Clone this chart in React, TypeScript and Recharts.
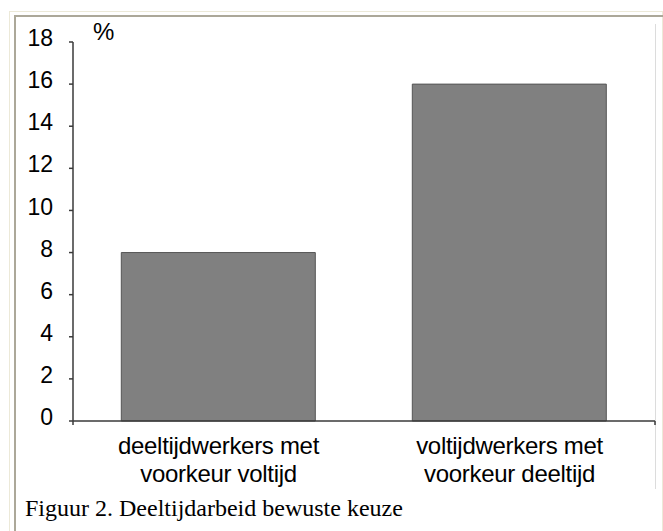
import { BarChart, Bar, XAxis, YAxis } from 'recharts'

// categories (two-line labels) and share in %
const categories = ['deeltijdwerkers met\nvoorkeur voltijd', 'voltijdwerkers met\nvoorkeur deeltijd']
const percentages = [8, 16]
const yTicks = [0, 2, 4, 6, 8, 10, 12, 14, 16, 18]
const edgeTicks = [0, 1, 2]

const data = categories.map((name, i) => ({ name, value: percentages[i] }))

const SANS = '"Liberation Sans", Arial, sans-serif'
const AXIS = '#3a3a3a'

function CategoryTick({ x, y, payload }: any) {
  const lines = String(payload.value).split('\n')
  return (
    <text x={x} y={y} textAnchor="middle" fill="#000" fontSize={24} fontFamily={SANS} letterSpacing={-0.3}>
      {lines.map((line, i) => (
        <tspan key={i} x={x} dy={i === 0 ? 17 : 28}>
          {line}
        </tspan>
      ))}
    </text>
  )
}

function PercentLabel({ viewBox }: any) {
  return (
    <text x={viewBox.x + viewBox.width + 20} y={viewBox.y - 2} fontSize={24} fontFamily={SANS} fill="#000">
      %
    </text>
  )
}

export default function App() {
  return (
    <div style={{ position: 'absolute', left: 0, top: 0, width: 663, height: 531, background: '#fff' }}>
      {/* outer cream frame */}
      <div
        style={{
          position: 'absolute',
          left: 9,
          top: 11,
          width: 652,
          height: 530,
          borderTop: '1px solid #ece9d8',
          borderLeft: '1px solid #ece9d8',
          borderRight: '1px solid #ece9d8',
        }}
      />
      {/* inner grey frame */}
      <div
        style={{
          position: 'absolute',
          left: 14,
          top: 15,
          width: 649,
          height: 516,
          borderTop: '2px solid #aca899',
          borderLeft: '2px solid #aca899',
        }}
      />
      <div style={{ position: 'absolute', left: 655, top: 24, width: 1, height: 465, background: '#dcdcdc' }} />

      <div style={{ position: 'absolute', left: 0, top: 0 }}>
        <BarChart
          width={663}
          height={531}
          data={data}
          margin={{ top: 42, right: 8, bottom: 40, left: 0 }}
          barCategoryGap="16.6%"
        >
          <XAxis
            xAxisId="b_cat"
            dataKey="name"
            height={69}
            axisLine={false}
            tickLine={false}
            tickSize={0}
            tickMargin={15}
            tick={<CategoryTick />}
            interval={0}
          />
          {/* tick marks at the category boundaries */}
          <XAxis
            xAxisId="a_edges"
            type="number"
            domain={[0, 2]}
            ticks={edgeTicks}
            tickFormatter={() => ''}
            height={1}
            tickSize={4}
            stroke={AXIS}
            strokeWidth={1.5}
          />
          <YAxis
            width={73}
            domain={[0, 18]}
            ticks={yTicks}
            interval={0}
            tickSize={4}
            tickMargin={16}
            stroke={AXIS}
            strokeWidth={1.5}
            tick={{ fill: '#000', fontSize: 23, fontFamily: SANS, dy: -4 }}
            label={<PercentLabel />}
          />
          <Bar
            xAxisId="b_cat"
            dataKey="value"
            fill="#808080"
            stroke="#555"
            strokeWidth={1}
            isAnimationActive={false}
          />
        </BarChart>
      </div>

      <div
        style={{
          position: 'absolute',
          left: 25,
          top: 496,
          fontFamily: '"Liberation Serif", "Times New Roman", serif',
          fontSize: 24,
          lineHeight: '24px',
          color: '#000',
          whiteSpace: 'nowrap',
        }}
      >
        Figuur 2. Deeltijdarbeid bewuste keuze
      </div>
    </div>
  )
}
